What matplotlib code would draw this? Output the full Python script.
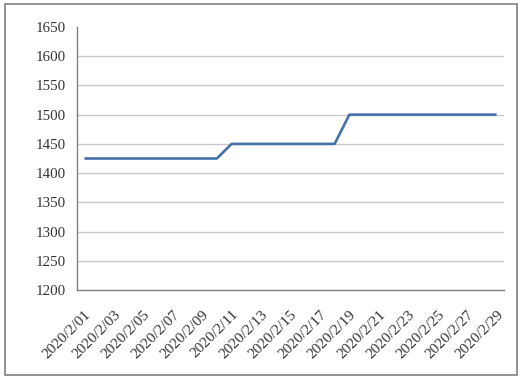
import numpy as np
import matplotlib.pyplot as plt
import matplotlib.transforms as mtransforms
from matplotlib.patches import Rectangle

# datos: precio diario, febrero 2020
dias = [f"2020/2/{d:02d}" for d in range(1, 30)]
precio = [1425] * 10 + [1450] * 8 + [1500] * 11

yticks = [1200, 1250, 1300, 1350, 1400, 1450, 1500, 1550, 1600, 1650]

plt.rcParams['font.family'] = ['Liberation Serif', 'DejaVu Serif']

fig = plt.figure(figsize=(5.29, 3.79), dpi=100)
ax = fig.add_axes([0.1456, 0.2348, 0.807, 0.694])

x = np.arange(len(dias))
ax.plot(x, precio, color='#4472A8', linewidth=1.9, solid_capstyle='butt')

ax.set_xlim(-0.5, len(dias) - 0.5)
ax.set_ylim(1200, 1650)
ax.set_yticks(yticks)
ax.set_yticklabels([str(v) for v in yticks], fontsize=10.8, color='#333333')

ax.set_xticks(x[::2])
ax.set_xticklabels(dias[::2], rotation=45, ha='right', rotation_mode='anchor',
                   fontsize=11, color='#333333')

# desplazar un poco las etiquetas a la derecha
desplaz = mtransforms.ScaledTranslation(4 / 100, 0, fig.dpi_scale_trans)
for lbl in ax.get_xticklabels():
    lbl.set_transform(lbl.get_transform() + desplaz)

for v in yticks[1:-1]:
    ax.axhline(v, color='#c8c8c8', linewidth=1.0, zorder=0)

for s in ['top', 'right']:
    ax.spines[s].set_visible(False)
ax.spines['left'].set_color('#808080')
ax.spines['bottom'].set_color('#808080')
ax.spines['left'].set_linewidth(1.0)
ax.spines['bottom'].set_linewidth(1.0)
ax.tick_params(axis='both', length=0)
ax.tick_params(axis='y', pad=8)
ax.tick_params(axis='x', pad=13)

# marco exterior gris
fig.patches.append(Rectangle((5 / 529, 4 / 379), 512 / 529, 371 / 379,
                             transform=fig.transFigure, fill=False,
                             edgecolor='#808080', linewidth=1.2))

fig.savefig("out.png", dpi=100)
